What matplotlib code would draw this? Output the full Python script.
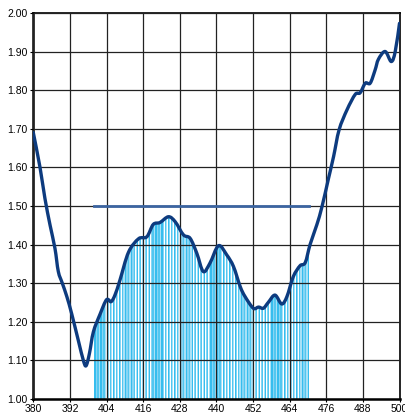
import matplotlib
matplotlib.use('Agg')
import matplotlib.pyplot as plt
from matplotlib.patches import Polygon, PathPatch
from matplotlib.path import Path
import numpy as np

# wavelength (nm) and curve values
wl = [380, 382.2, 383.8, 385.5, 387.1, 388.2, 389.5, 391.0, 392.6, 394.8, 396.4,
      397.3, 398.4, 399.7, 401.9, 404.0, 405.5, 406.8, 408.4, 411.2, 414.5, 417.2,
      419.3, 421.5, 424.3, 426.5, 429.2, 431.4, 433.6, 435.7, 437.9, 440.7, 443.4,
      445.6, 447.8, 449.4, 452.1, 453.8, 455.4, 457.0, 459.2, 461.4, 463.1, 465.2,
      467.4, 469.1, 470.7, 472.9, 474.6, 476.7, 478.4, 480.2, 482.8, 485.5, 487.1,
      488.8, 490.4, 492.0, 493.1, 495.3, 497.3, 498.6, 500]
val = [1.69, 1.60, 1.52, 1.45, 1.39, 1.33, 1.30, 1.265, 1.22, 1.15, 1.10,
       1.086, 1.118, 1.174, 1.22, 1.257, 1.252, 1.27, 1.308, 1.38, 1.415, 1.42,
       1.452, 1.457, 1.472, 1.459, 1.425, 1.416, 1.377, 1.33, 1.352, 1.397, 1.373,
       1.343, 1.291, 1.265, 1.235, 1.238, 1.235, 1.25, 1.269, 1.246, 1.265, 1.317,
       1.345, 1.353, 1.40, 1.451, 1.498, 1.57, 1.628, 1.697, 1.749, 1.789, 1.793,
       1.818, 1.818, 1.852, 1.88, 1.90, 1.874, 1.90, 1.973]

# shaded band and threshold line
band_start, band_end = 400, 470.5
threshold = 1.50

xticks = [380, 392, 404, 416, 428, 440, 452, 464, 476, 488, 500]
yticks = [1.0, 1.1, 1.2, 1.3, 1.4, 1.5, 1.6, 1.7, 1.8, 1.9, 2.0]

plt.rcParams['font.family'] = ['Liberation Sans', 'DejaVu Sans']


def smooth_path(xs, ys):
    # catmull-rom through the points, drawn as cubic bezier segments
    pts = np.column_stack([xs, ys])
    verts = [pts[0]]
    codes = [Path.MOVETO]
    for i in range(len(pts) - 1):
        p0 = pts[max(i - 1, 0)]
        p1 = pts[i]
        p2 = pts[i + 1]
        p3 = pts[min(i + 2, len(pts) - 1)]
        verts += [p1 + (p2 - p0) / 6, p2 - (p3 - p1) / 6, p2]
        codes += [Path.CURVE4] * 3
    return Path(verts, codes)


fig = plt.figure(figsize=(4.06, 4.16), dpi=100)
ax = fig.add_axes([0.082, 0.041, 0.902, 0.928])

# striped fill under the curve, clipped to the area below the line
stripe_x = np.arange(band_start, band_end, 0.5)
stripe_cols = ['#36bdee', '#86d5f4', '#52c7f0', '#a8e1f7']
bars = ax.bar(stripe_x, 1.0, bottom=1.0, width=0.4, align='edge',
              color=[stripe_cols[i % 4] for i in range(len(stripe_x))],
              linewidth=0, zorder=1)
curve = smooth_path(wl, val)
clip_verts = np.vstack([curve.vertices, [[500, 1.0], [380, 1.0], [380, val[0]]]])
clip_codes = list(curve.codes) + [Path.LINETO, Path.LINETO, Path.CLOSEPOLY]
clip = PathPatch(Path(clip_verts, clip_codes), transform=ax.transData)
for b in bars:
    b.set_clip_path(clip)

ax.add_patch(PathPatch(curve, facecolor='none', edgecolor='#0d3b7f', lw=2.4,
                       joinstyle='round', capstyle='round', zorder=4))
ax.plot([band_start, band_end], [threshold, threshold], color='#3b64a0',
        lw=2.0, zorder=3)

ax.set_xlim(380, 500)
ax.set_ylim(1.0, 2.0)
ax.set_xticks(xticks)
ax.set_yticks(yticks)
ax.set_yticklabels(['%.2f' % y for y in yticks])
ax.tick_params(labelsize=7.5, length=2, width=0.8, pad=2, colors='black')
ax.grid(True, color='#222222', lw=0.9)
ax.set_axisbelow(False)
for s in ax.spines.values():
    s.set_color('black')
    s.set_linewidth(1.2)
ax.spines['left'].set_linewidth(1.8)
ax.spines['bottom'].set_linewidth(1.8)

fig.savefig('out.png', dpi=100)
plt.close(fig)
